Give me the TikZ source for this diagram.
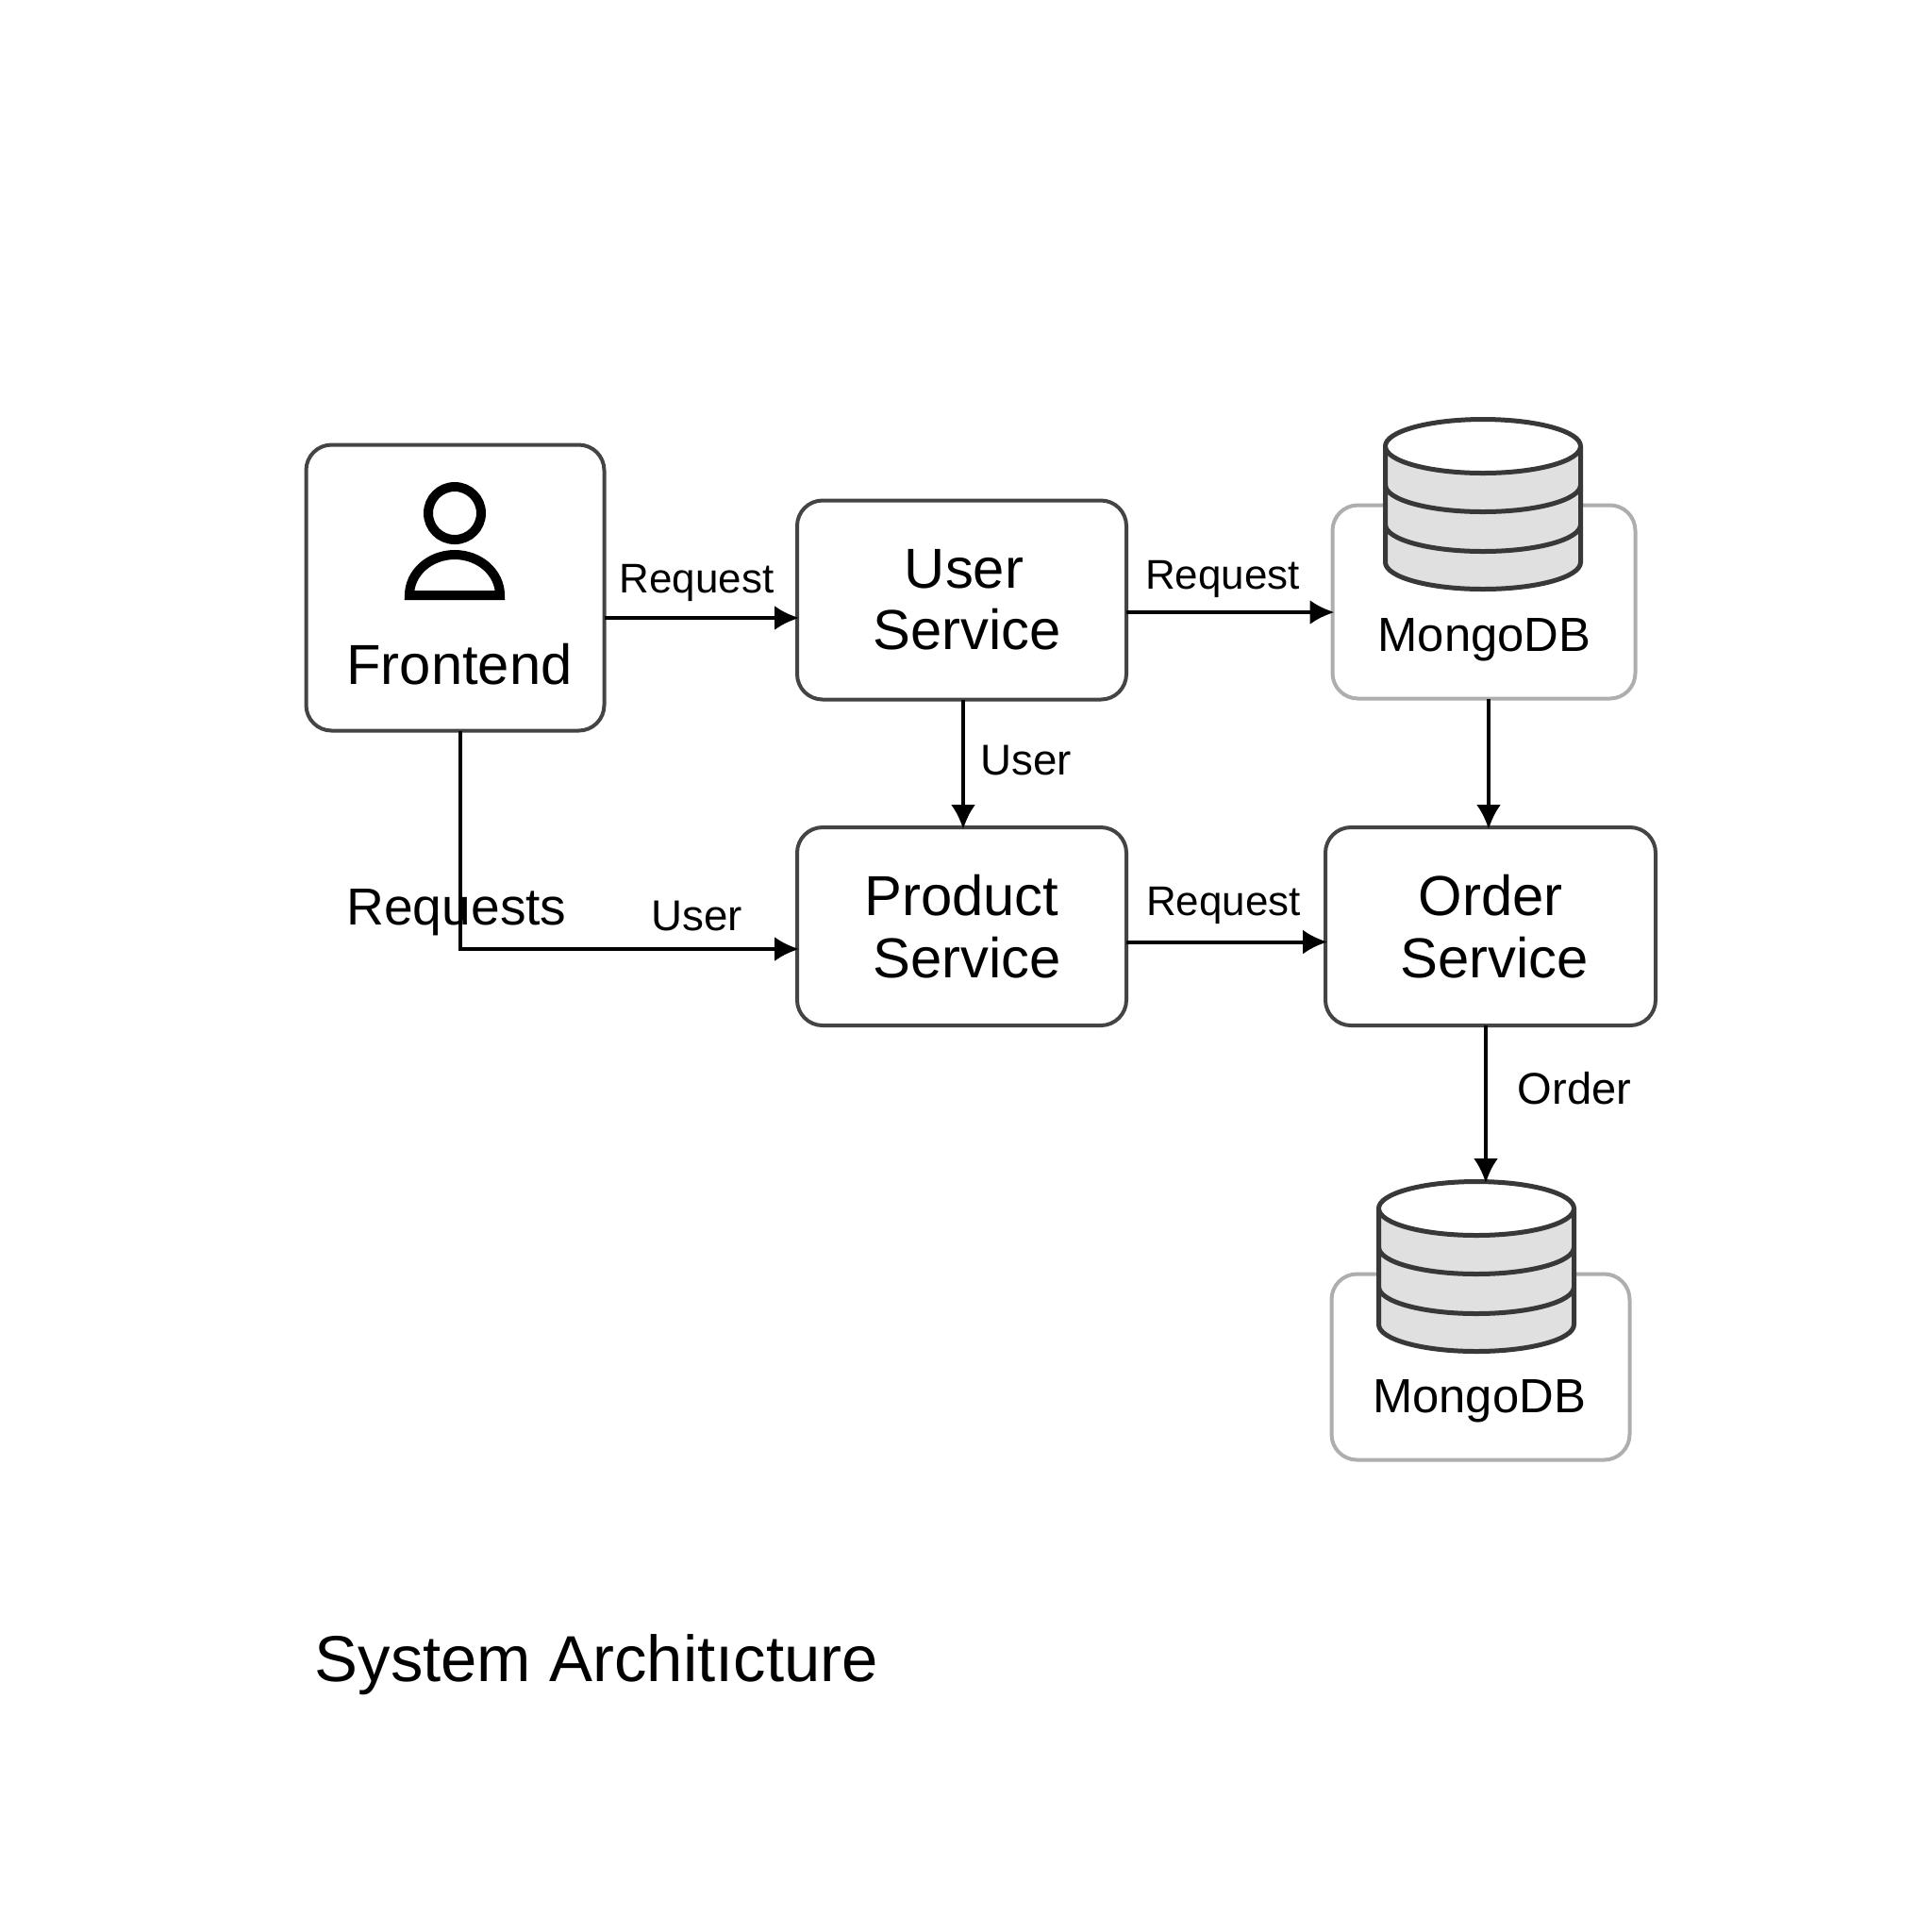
\documentclass[tikz,border=0pt]{standalone}
\usepackage{fontspec}
\setmainfont{Liberation Sans}
\usepackage{xcolor}
\definecolor{BoxLine}{HTML}{444444}
\definecolor{DbLine}{HTML}{383838}
\definecolor{DbFill}{HTML}{E0E0E0}
\definecolor{DbBox}{HTML}{AEAEAE}
\usetikzlibrary{arrows.meta}
\tikzstyle{flowarr}=[-{Latex[length=0.26cm,width=0.26cm]},line width=0.04cm,black,shorten >=-0.02cm]
\tikzstyle{servicebox}=[draw=BoxLine,line width=0.04cm,rounded corners=0.27cm,inner sep=0,outer sep=0,align=center,font=\fontsize{17}{18.6}\selectfont]
\tikzstyle{dbbox}=[draw=DbBox,line width=0.04cm,rounded corners=0.27cm,inner sep=0,outer sep=0]
\tikzstyle{arrlabel}=[inner sep=0,font=\fontsize{12.5}{14}\selectfont]
\tikzstyle{userlabel}=[inner sep=0,font=\fontsize{13}{14}\selectfont]
\tikzstyle{dblabel}=[inner sep=0,font=\fontsize{14.45}{16}\selectfont]
\newcommand\dbStack[2]{
	\def\dbRx{1.035}
	\def\dbRy{0.285}
	\fill[DbFill] (#1-\dbRx,#2) -- ++(0,-1.23) arc[start angle=180,end angle=360,x radius=\dbRx,y radius=\dbRy] -- ++(0,1.23) -- cycle;
	\foreach \dbLevel in {0.41,0.83}{
		\draw[DbLine,line width=0.05cm] (#1-\dbRx,#2-\dbLevel) arc[start angle=180,end angle=360,x radius=\dbRx,y radius=\dbRy];
	}
	\draw[DbLine,line width=0.05cm] (#1-\dbRx,#2) -- ++(0,-1.23) arc[start angle=180,end angle=360,x radius=\dbRx,y radius=\dbRy] -- ++(0,1.23);
	\draw[DbLine,line width=0.05cm,fill=white] (#1,#2) ellipse [x radius=\dbRx,y radius=\dbRy];
}
\begin{document}
\begin{tikzpicture}
	\useasboundingbox (0,-20.48) rectangle (20.48,0);
	
	%% BOXES
	\node[servicebox,minimum width=3.16cm,minimum height=3.03cm] (frontend) at (4.825,-6.23) {};
	\node[servicebox,minimum width=3.49cm,minimum height=2.11cm] (userbox) at (10.195,-6.36) {\hspace*{0.05cm}User\\ \hspace*{0.12cm}Service};
	\node[servicebox,minimum width=3.49cm,minimum height=2.10cm] (productbox) at (10.195,-9.82) {Product\\ \hspace*{0.12cm}Service};
	\node[servicebox,minimum width=3.50cm,minimum height=2.10cm] (orderbox) at (15.80,-9.82) {Order\\ \hspace*{0.08cm}Service};
	\node[dbbox,minimum width=3.21cm,minimum height=2.05cm] (dbone) at (15.73,-6.38) {};
	\node[dbbox,minimum width=3.16cm,minimum height=1.97cm] (dbtwo) at (15.695,-14.49) {};
	
	%% PERSON ICON
	\draw[line width=0.1cm] (4.82,-5.44) circle [radius=0.28];
	\draw[line width=0.1cm,miter limit=10] (4.34,-6.31) arc[start angle=180,end angle=0,x radius=0.48,y radius=0.43] -- cycle;
	\node[inner sep=0,font=\fontsize{17}{18.6}\selectfont] (frontendlabel) at (4.87,-7.04) {Frontend};
	
	%% DATABASES
	\dbStack{15.72}{-4.73}
	\dbStack{15.65}{-12.81}
	\node[dblabel] (dbonelabel) at (15.735,-6.785) {MongoDB};
	\node[dblabel] (dbtwolabel) at (15.68,-14.85) {MongoDB};
	
	%% CONNECTORS
	\coordinate (RowOne) at (0,-6.55);
	\coordinate (RowTwo) at (0,-6.49);
	\coordinate (RowThree) at (0,-10.06);
	\coordinate (RowFour) at (0,-9.985);
	\coordinate (DownLeft) at (4.875,0);
	\coordinate (DownMid) at (10.21,0);
	\coordinate (DownDb) at (15.78,0);
	\coordinate (DownOrder) at (15.75,0);
	\coordinate (DbTwoTop) at (15.75,-12.52);
	
	\draw[flowarr] (frontend.east |- RowOne) -- (userbox.west |- RowOne);
	\draw[flowarr] (userbox.east |- RowTwo) -- (dbone.west |- RowTwo);
	\draw[flowarr] (userbox.south -| DownMid) -- (productbox.north -| DownMid);
	\draw[flowarr] (dbone.south -| DownDb) -- (orderbox.north -| DownDb);
	\draw[flowarr] (productbox.east |- RowFour) -- (orderbox.west |- RowFour);
	\draw[flowarr] (orderbox.south -| DownOrder) -- (DbTwoTop);
	\draw[flowarr] (frontend.south -| DownLeft) -- (DownLeft |- RowThree) -- (productbox.west |- RowThree);
	
	%% LABELS
	\node[arrlabel] (reqone) at (7.385,-6.18) {Request};
	\node[arrlabel] (reqtwo) at (12.96,-6.135) {Request};
	\node[arrlabel] (reqthree) at (12.97,-9.60) {Request};
	\node[userlabel] (userone) at (10.875,-8.06) {User};
	\node[userlabel] (usertwo) at (7.385,-9.71) {User};
	\node[arrlabel,font=\fontsize{13.4}{15}\selectfont] (orderlabel) at (16.69,-11.535) {Order};
	\node[inner sep=0,font=\fontsize{15.7}{17}\selectfont] (requests) at (4.84,-9.675) {Requests};
	\node[inner sep=0,anchor=west,font=\fontsize{19.6}{22}\selectfont] (title) at (3.33,-17.65) {System Architıcture};
	
\end{tikzpicture}
\end{document}
